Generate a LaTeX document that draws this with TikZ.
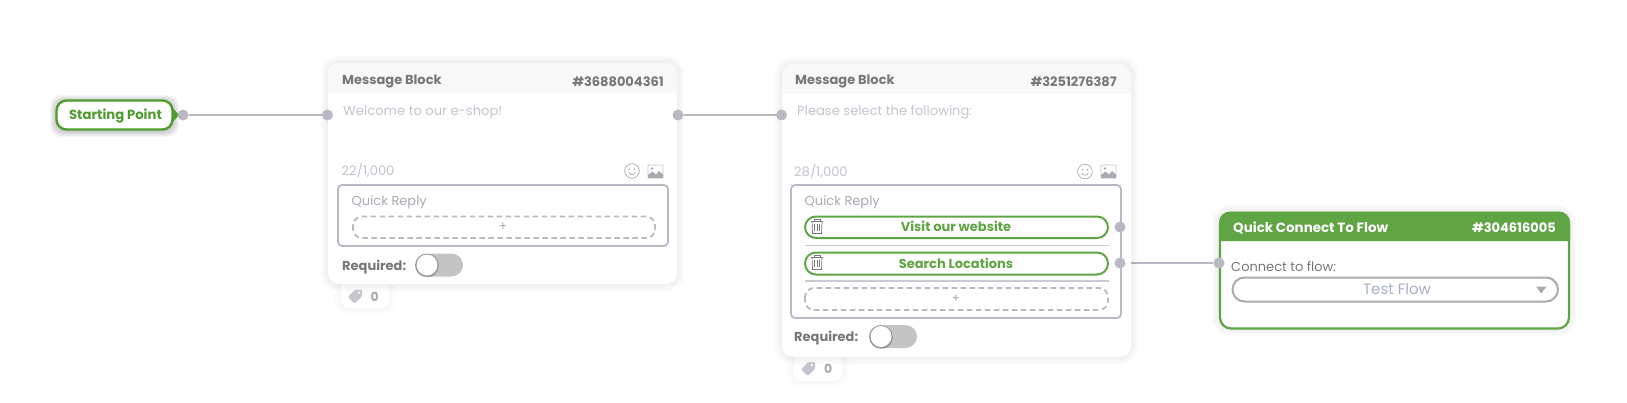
\documentclass[tikz,border=0pt]{standalone}
\usepackage{fontspec}
\setmainfont{Poppins}
\definecolor{grn}{HTML}{5FA544}
\definecolor{grnd}{HTML}{4F9D2F}
\definecolor{edgeg}{HTML}{B8B9C3}
\definecolor{hdr}{HTML}{F8F8F8}
\definecolor{hdrtx}{HTML}{77777B}
\definecolor{ltx}{HTML}{C4C5CE}
\definecolor{mtx}{HTML}{A9AAB2}
\definecolor{tog}{HTML}{C4C4C4}
\definecolor{flowtx}{HTML}{A8B0C8}
\pgfdeclarelayer{under}
\pgfsetlayers{under,main}
\newcommand{\softshadow}[6]{% x1 y1 x2 y2 radius opacity
  \foreach \sh in {1,...,8}{
    \fill[black,opacity=#6,rounded corners=#5+\sh] (#1-\sh,#2-\sh) rectangle (#3+\sh,#4+\sh);
  }}
\tikzset{
  x=1pt,y=-1pt,
  lbl/.style={inner sep=0pt,anchor=west,font=\fontsize{13}{13}\selectfont},
  hd/.style={lbl,text=hdrtx,font=\fontsize{13}{13}\selectfont\bfseries},
  hdr right/.style={hd,anchor=east},
  port/.style={circle,fill=edgeg,inner sep=0pt,minimum size=11pt},
  wire/.style={draw=edgeg,line width=1.9pt},
  btn/.style={draw=grn,line width=2pt,rounded corners=11pt},
  dashbox/.style={draw=edgeg,line width=1.8pt,dash pattern=on 5.5pt off 3.5pt,rounded corners=9pt},
  qbox/.style={draw=edgeg,line width=1.8pt,rounded corners=4pt},
  sepline/.style={draw=edgeg!75,line width=1.1pt},
  icon/.style={draw=mtx,line width=0.7pt},
  cardtxt/.style={lbl,text=ltx,font=\fontsize{13.1}{13}\selectfont},
  qtxt/.style={lbl,text=mtx},
  reqtxt/.style={lbl,text=hdrtx,font=\fontsize{13}{13}\selectfont\bfseries},
  plus/.style={inner sep=0pt,text=mtx,font=\fontsize{12}{12}\selectfont},
  btntxt/.style={inner sep=0pt,text=grn,font=\fontsize{13}{13}\selectfont\bfseries},
}
\newcommand{\trash}[1]{%
  \begin{scope}[shift={#1},line width=0.7pt]
    \draw[hdrtx] (-6,-6) -- (6,-6);
    \draw[hdrtx] (-3,-6) -- (-3,-7.5) -- (3,-7.5) -- (3,-6);
    \draw[hdrtx] (-5,-6) -- (-4.5,6.5) -- (4.5,6.5) -- (5,-6);
    \draw[hdrtx] (-2.2,-3.5) -- (-2.2,4) (0,-3.5) -- (0,4) (2.2,-3.5) -- (2.2,4);
  \end{scope}}
\newcommand{\smiley}[1]{%
  \begin{scope}[shift={#1}]
    \draw[icon] (0,0) circle (7.3);
    \fill[mtx] (-2.5,-1.8) circle (0.9) (2.5,-1.8) circle (0.9);
    \draw[icon] (-3.4,1.6) .. controls (-1.5,4.4) and (1.5,4.4) .. (3.4,1.6);
  \end{scope}}
\newcommand{\pict}[1]{%
  \begin{scope}[shift={#1}]
    \draw[draw=ltx,line width=0.8pt,rounded corners=1pt] (-7.5,-6.5) rectangle (7.5,6.5);
    \fill[mtx] (-7.5,6.5) -- (-7.5,3.5) -- (-3,0) -- (0.5,3) -- (3.5,-0.5) -- (7.5,3) -- (7.5,6.5) -- cycle;
    \fill[mtx] (-3.5,-3) circle (1.3);
  \end{scope}}
\newcommand{\tagicon}[1]{%
  \begin{scope}[shift={#1}]
    \fill[ltx,rounded corners=1.2pt] (7,-7) -- (7,0) -- (-0.5,7) -- (-7,0.5) -- (0,-7) -- cycle;
    \fill[white] (3.8,-3.8) circle (1.2);
  \end{scope}}
\newcommand{\toggle}[2]{% left x, center y
  \fill[tog,rounded corners=11.5pt] (#1,#2-11.5) rectangle (#1+48,#2+11.5);
  \fill[black,opacity=0.25] (#1+12,#2+0.6) circle (11.8);
  \fill[white] (#1+12,#2) circle (10.5);
}
\newcommand{\msgcard}[5]{% x1 y1 x2 y2 (card frame), tab left x=#5
  \softshadow{#5}{#4-10}{#5+48}{#4+24}{8}{0.005}
  \fill[white,rounded corners=8pt] (#5,#4-10) rectangle (#5+48,#4+24);
  \softshadow{#1}{#2}{#3}{#4}{11}{0.009}
  \fill[white,rounded corners=11pt] (#1,#2) rectangle (#3,#4);
  \fill[hdr] (#1,#2+30) [rounded corners=11pt] -- (#1,#2) -- (#3,#2) [sharp corners] -- (#3,#2+30) -- cycle;
}
\begin{document}
\begin{tikzpicture}
\useasboundingbox (0,0) rectangle (1627,402);
% Starting point
\foreach \sh in {1,...,6}{
  \fill[black,opacity=0.035,rounded corners=11pt] (56-\sh,100-\sh+1) rectangle (173+\sh,130+\sh+1);
}
\fill[grnd] (172,107) -- (179,115) -- (172,123) -- cycle;
\node[draw=grnd,line width=2.4pt,fill=white,rounded corners=10pt,inner sep=0pt,minimum width=116pt,minimum height=29pt] (start) at (114.5,115) {};
\node[inner sep=0pt,text=grnd,font=\fontsize{13.2}{13}\selectfont\bfseries] (startl) at (115.5,116) {Starting Point};
% Card 1
\msgcard{328}{63}{677}{284}{341}
\node[hd] (c1t) at (342,81.5) {Message Block};
\node[hdr right] (c1h) at (664,81.5) {\#3688004361};
\node[cardtxt] (c1m) at (343,112.5) {Welcome to our e-shop!};
\node[cardtxt] (c1n) at (341.5,170.5) {22/1,000};
\smiley{(632,171)}
\pict{(655.5,171.5)}
\draw[qbox] (338,185) rectangle (668,246);
\node[qtxt] (c1q) at (351.5,202.5) {Quick Reply};
\draw[dashbox] (353,216.5) rectangle (655,238);
\node[plus] (c1p) at (503,227) {+};
\node[reqtxt] (c1r) at (342,267.5) {Required:};
\toggle{415}{265}
\tagicon{(355,296.5)}
\node[lbl,text=mtx,font=\fontsize{12.5}{13}\selectfont\bfseries] (c1z) at (370.5,296.5) {0};
% Card 2
\msgcard{782}{64}{1131}{357}{794}
\node[hd] (c2t) at (795,81.5) {Message Block};
\node[hdr right] (c2h) at (1117,81.5) {\#3251276387};
\node[cardtxt] (c2m) at (797,112.5) {Please select the following:};
\node[cardtxt] (c2n) at (794,171) {28/1,000};
\smiley{(1085,171.5)}
\pict{(1108.5,171.5)}
\draw[qbox] (791,185) rectangle (1121,318);
\node[qtxt] (c2q) at (804.5,202.5) {Quick Reply};
\draw[btn] (805,216.5) rectangle (1108,238);
\node[btntxt] (b1) at (956,226) {Visit our website};
\trash{(817,227)}
\draw[sepline] (805,245.5) -- (1109,245.5);
\draw[btn] (805,252.5) rectangle (1108,274.5);
\node[btntxt] (b2) at (956,263) {Search Locations};
\trash{(817,263)}
\draw[sepline] (805,281) -- (1109,281);
\draw[dashbox] (805,288) rectangle (1108,310);
\node[plus] (c2p) at (956,299) {+};
\node[reqtxt] (c2r) at (794,338) {Required:};
\toggle{869}{336.5}
\tagicon{(808,369)}
\node[lbl,text=mtx,font=\fontsize{12.5}{13}\selectfont\bfseries] (c2z) at (824,369) {0};
% Card 3
\softshadow{1219}{212}{1569}{329}{11}{0.009}
\draw[grn,line width=2.2pt,fill=white,rounded corners=11pt] (1220,213) rectangle (1569,328.5);
\fill[grn] (1219,241) [rounded corners=11pt] -- (1219,211.5) -- (1570,211.5) [sharp corners] -- (1570,241) -- cycle;
\node[hd,text=white,font=\fontsize{13.4}{14}\selectfont\bfseries] (c3t) at (1233,228) {Quick Connect To Flow};
\node[hdr right,text=white] (c3h) at (1556,228) {\#304616005};
\node[lbl,text=hdrtx] (c3l) at (1231,266.5) {Connect to flow:};
\draw[draw=mtx,line width=2pt,rounded corners=12pt] (1232.5,277.5) rectangle (1558,301.5);
\node[inner sep=0pt,text=flowtx,font=\fontsize{15}{15}\selectfont] (c3f) at (1397,289) {Test Flow};
\fill[mtx] (1536,286.5) -- (1546.5,286.5) -- (1541.2,293.5) -- cycle;
% ports
\node[port] (p0) at (183,115) {};
\node[port] (p1in) at (327.5,115) {};
\node[port] (p1out) at (678,115) {};
\node[port] (p2in) at (781.5,115) {};
\node[port] (q1) at (1120,227) {};
\node[port] (q2) at (1120,263) {};
\node[port] (p3in) at (1219,263) {};
\begin{pgfonlayer}{under}
\draw[wire] (p0) -- (p1in);
\draw[wire] (p1out) -- (p2in);
\draw[wire] (q2) -- (p3in);
\end{pgfonlayer}
\end{tikzpicture}
\end{document}
